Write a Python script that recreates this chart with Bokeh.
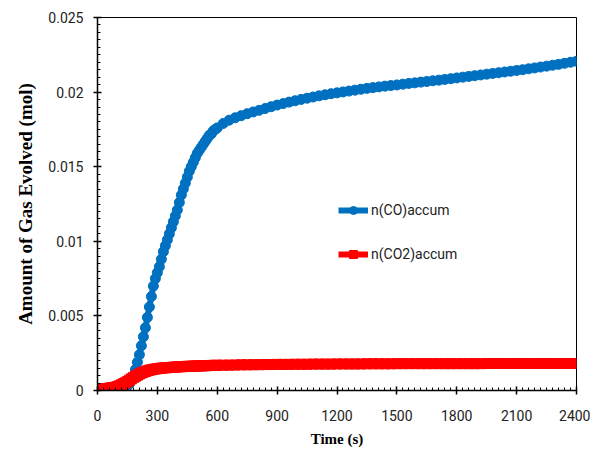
from bokeh.plotting import figure
from bokeh.models import Range1d, FixedTicker, CustomJSTickFormatter, Legend, LegendItem
from bokeh.embed import file_html
from bokeh.resources import INLINE

# sample times (s): every 10 s up to 600 s, then every 30 s
time_s = list(range(0, 610, 10)) + list(range(630, 2401, 30))

co_accum = [
    0, 0, 0, 0, 0, 0, 0, 0, 0.00001, 0.00002,
    0.00003, 0.00005, 0.00008, 0.00013, 0.0002, 0.0003, 0.00045, 0.00068, 0.001, 0.0014,
    0.0019, 0.0024, 0.003, 0.0036, 0.0042, 0.0049, 0.0056, 0.0063, 0.007, 0.0075,
    0.0079, 0.0083, 0.0088, 0.0093, 0.0097, 0.0101, 0.0105, 0.0109, 0.0113, 0.0117,
    0.0121, 0.0126, 0.0131, 0.0135, 0.0139, 0.0143, 0.0147, 0.0150, 0.0153, 0.0156,
    0.0159, 0.0161, 0.0163, 0.0165, 0.0167, 0.0169, 0.0171, 0.0172, 0.0174, 0.0175,
    0.0176,
    0.01790, 0.01812, 0.01828, 0.01842, 0.01855, 0.01867, 0.01878, 0.01890, 0.01902, 0.01913,
    0.01923, 0.01933, 0.01942, 0.01951, 0.01959, 0.01967, 0.01975, 0.01982, 0.01989, 0.01995,
    0.02001, 0.02007, 0.02013, 0.02019, 0.02025, 0.02030, 0.02035, 0.02040, 0.02044, 0.02048,
    0.02053, 0.02058, 0.02062, 0.02067, 0.02071, 0.02076, 0.02080, 0.02085, 0.02090, 0.02095,
    0.02100, 0.02105, 0.02110, 0.02115, 0.02120, 0.02125, 0.02130, 0.02135, 0.02140, 0.02145,
    0.02150, 0.02156, 0.02162, 0.02168, 0.02174, 0.02180, 0.02186, 0.02193, 0.02200, 0.02207,
]

co2_accum = [
    0.00005, 0.00006, 0.00008, 0.0001, 0.00012, 0.00014, 0.00016, 0.00018, 0.0002, 0.00023,
    0.00027, 0.00032, 0.00038, 0.00045, 0.00052, 0.0006, 0.00069, 0.00078, 0.00087, 0.00095,
    0.00103, 0.0011, 0.00117, 0.00123, 0.00128, 0.00132, 0.00136, 0.00139, 0.00142, 0.00144,
    0.00146, 0.00148, 0.0015, 0.00151, 0.00152, 0.00153, 0.00154, 0.00155, 0.00156, 0.00157,
    0.00158, 0.00159, 0.0016, 0.0016, 0.00161, 0.00162, 0.00162, 0.00163, 0.00163, 0.00164,
    0.00164, 0.00165, 0.00165, 0.00166, 0.00166, 0.00167, 0.00167, 0.00168, 0.00168, 0.00169,
    0.00169,
    0.0017, 0.0017, 0.00171, 0.00172, 0.00172, 0.00173, 0.00173, 0.00174, 0.00174, 0.00175,
    0.00175, 0.00175, 0.00176, 0.00176, 0.00176, 0.00177, 0.00177, 0.00177, 0.00177, 0.00178,
    0.00178, 0.00178, 0.00178, 0.00178, 0.00179, 0.00179, 0.00179, 0.00179, 0.00179, 0.0018,
    0.0018, 0.0018, 0.0018, 0.0018, 0.0018, 0.0018, 0.0018, 0.0018, 0.0018, 0.0018,
    0.0018, 0.0018, 0.0018, 0.0018, 0.00181, 0.00181, 0.00181, 0.00181, 0.00181, 0.00181,
    0.00181, 0.00181, 0.00181, 0.00181, 0.00181, 0.00181, 0.00181, 0.00181, 0.00181, 0.00181,
]

x_ticks = [0, 300, 600, 900, 1200, 1500, 1800, 2100, 2400]
y_ticks = [0, 0.005, 0.01, 0.015, 0.02, 0.025]
series_names = ["n(CO)accum", "n(CO2)accum"]

BLUE = "#0070C0"
RED = "#FF0000"
TICK_FONT = "Roboto"
LABEL_FONT = "'Liberation Serif', 'Times New Roman', serif"

p = figure(width=590, height=450, output_backend="svg", toolbar_location=None,
           x_range=Range1d(0, 2400), y_range=Range1d(0, 0.025),
           min_border_left=97, min_border_right=14, min_border_top=17, min_border_bottom=60)
p.xgrid.visible = False
p.ygrid.visible = False
p.outline_line_color = "black"
p.outline_line_width = 1
p.background_fill_color = "white"
p.border_fill_color = "white"

r1l = p.line(time_s, co_accum, line_color=BLUE, line_width=6)
r1m = p.scatter(time_s, co_accum, marker="circle", size=10, fill_color=BLUE, line_color=BLUE)
r2l = p.line(time_s, co2_accum, line_color=RED, line_width=6)
r2m = p.scatter(time_s, co2_accum, marker="square", size=10, fill_color=RED, line_color=RED)

minor_x = [t for t in range(0, 2401, 30) if t not in x_ticks]
minor_y = [round(i * 0.0005, 4) for i in range(0, 51)]
p.xaxis.ticker = FixedTicker(ticks=x_ticks, minor_ticks=minor_x)
p.yaxis.ticker = FixedTicker(ticks=y_ticks, minor_ticks=minor_y)
p.yaxis.formatter = CustomJSTickFormatter(code="return String(parseFloat(tick.toFixed(4)));")

for ax in (p.xaxis[0], p.yaxis[0]):
    ax.axis_line_color = "black"
    ax.axis_line_width = 1.5
    ax.major_tick_line_color = "black"
    ax.major_tick_line_width = 1.5
    ax.minor_tick_line_color = "black"
    ax.minor_tick_line_width = 1
    ax.major_tick_in = 4
    ax.major_tick_out = 4
    ax.minor_tick_in = 3
    ax.minor_tick_out = 0
    ax.major_label_text_font = TICK_FONT
    ax.major_label_text_font_size = "14px"
    ax.major_label_text_color = "#222222"
    ax.axis_label_text_font = LABEL_FONT
    ax.axis_label_text_font_style = "bold"
    ax.axis_label_text_color = "black"

p.xaxis.axis_label = "Time (s)"
p.xaxis.axis_label_text_font_size = "15px"
p.xaxis.major_label_standoff = 15
p.xaxis.axis_label_standoff = 7
p.yaxis.axis_label = "Amount of Gas Evolved (mol)"
p.yaxis.axis_label_text_font_size = "19px"
p.yaxis.major_label_standoff = 10
p.yaxis.axis_label_standoff = 9

legend = Legend(items=[LegendItem(label=series_names[0], renderers=[r1l, r1m]),
                       LegendItem(label=series_names[1], renderers=[r2l, r2m])],
                location=(241, 126))
legend.label_text_font = TICK_FONT
legend.label_text_font_size = "14px"
legend.label_text_color = "#222222"
legend.glyph_width = 30
legend.glyph_height = 20
legend.spacing = 24
legend.padding = 0
legend.margin = 0
legend.label_standoff = 3
legend.border_line_alpha = 0
legend.background_fill_alpha = 0
p.add_layout(legend, "center")

open("out.html", "w").write(file_html(p, INLINE))
